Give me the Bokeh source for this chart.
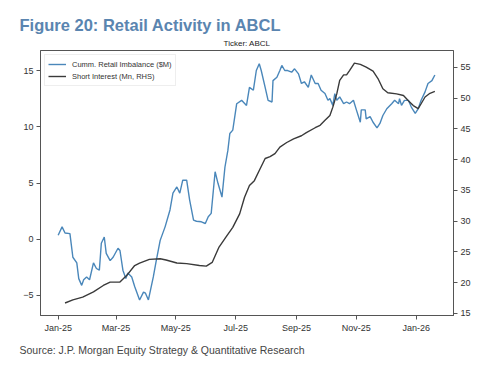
import pandas as pd
from bokeh.plotting import figure
from bokeh.models import (ColumnDataSource, Range1d, LinearAxis, FixedTicker,
                          DatetimeTickFormatter, Title)
from bokeh.embed import file_html
from bokeh.resources import INLINE

# ---------------- data ----------------
title_text = "Figure 20: Retail Activity in ABCL"
subtitle_text = "Ticker: ABCL"
source_text = "Source: J.P. Morgan Equity Strategy & Quantitative Research"
series_names = ["Cumm. Retail Imbalance ($M)", "Short Interest (Mn, RHS)"]

x_ticks = ["2025-01-01", "2025-03-01", "2025-05-01", "2025-07-01",
           "2025-09-01", "2025-11-01", "2026-01-01"]
left_ticks = [-5, 0, 5, 10, 15]
right_ticks = [15, 20, 25, 30, 35, 40, 45, 50, 55]

retail_dates = [
    "2025-01-01", "2025-01-05", "2025-01-08", "2025-01-13", "2025-01-16", "2025-01-20", "2025-01-22",
    "2025-01-25", "2025-01-27", "2025-01-30",
    "2025-02-02", "2025-02-06", "2025-02-09", "2025-02-12", "2025-02-14", "2025-02-17", "2025-02-19",
    "2025-02-23", "2025-02-26",
    "2025-03-03", "2025-03-05", "2025-03-08", "2025-03-11", "2025-03-13", "2025-03-17", "2025-03-20",
    "2025-03-25", "2025-03-29", "2025-03-31",
    "2025-04-03", "2025-04-08", "2025-04-11", "2025-04-15", "2025-04-20", "2025-04-25", "2025-04-28",
    "2025-05-02", "2025-05-05", "2025-05-08", "2025-05-12", "2025-05-15", "2025-05-19", "2025-05-22",
    "2025-05-27", "2025-05-31",
    "2025-06-03", "2025-06-06", "2025-06-10", "2025-06-13", "2025-06-17", "2025-06-20", "2025-06-23",
    "2025-06-25", "2025-06-28",
    "2025-07-02", "2025-07-07", "2025-07-12", "2025-07-15", "2025-07-19", "2025-07-22", "2025-07-25",
    "2025-07-27", "2025-07-31",
    "2025-08-03", "2025-08-07", "2025-08-08", "2025-08-12", "2025-08-15", "2025-08-17", "2025-08-20",
    "2025-08-23", "2025-08-27", "2025-08-30",
    "2025-09-03", "2025-09-06", "2025-09-09", "2025-09-13", "2025-09-16", "2025-09-20", "2025-09-23",
    "2025-09-26", "2025-09-30",
    "2025-10-03", "2025-10-05", "2025-10-08", "2025-10-10", "2025-10-12", "2025-10-15", "2025-10-19",
    "2025-10-22", "2025-10-25", "2025-10-29",
    "2025-11-01", "2025-11-05", "2025-11-06", "2025-11-10", "2025-11-11", "2025-11-15", "2025-11-18",
    "2025-11-22", "2025-11-25", "2025-11-28",
    "2025-12-02", "2025-12-07", "2025-12-10", "2025-12-14", "2025-12-15", "2025-12-17", "2025-12-20",
    "2025-12-24", "2025-12-27", "2025-12-31",
    "2026-01-03", "2026-01-06", "2026-01-10", "2026-01-13", "2026-01-17", "2026-01-20",
]
retail_vals = [
    0.36, 1.1, 0.56, 0.5, -1.6, -2.1, -3.5, -4.1, -3.6, -3.35,
    -3.6, -2.1, -2.6, -2.75, -0.36, 0.2, -1.25, -1.9, -1.6,
    -0.8, -1.0, -2.75, -3.5, -3.0, -3.35, -4.2, -5.4, -4.7, -4.8,
    -5.4, -3.35, -1.9, -0.1, 1.1, 2.6, 4.1,
    4.65, 4.1, 5.25, 5.25, 3.5, 1.7, 1.6, 1.55, 1.4,
    2.0, 2.3, 6.0, 4.95, 3.75, 6.4, 7.9, 9.4, 9.7,
    12.05, 12.35, 11.9, 13.5, 13.25, 15.0, 15.6, 15.0, 13.5,
    12.35, 12.2, 14.1, 14.4, 15.0, 15.45, 15.0, 15.0, 14.85, 15.15,
    14.7, 13.85, 14.0, 13.5, 14.6, 13.85, 13.85, 13.25, 12.95,
    12.35, 12.5, 11.9, 12.95, 12.35, 12.65, 12.05, 12.2, 12.05, 12.35,
    11.5, 10.4, 11.5, 11.5, 10.7, 10.9, 10.4, 9.9, 10.3, 11.0,
    11.6, 12.05, 12.35, 12.05, 12.5, 11.9, 12.35, 12.35, 11.75, 11.2,
    11.6, 12.35, 13.1, 13.85, 14.1, 14.6,
]

short_dates = [
    "2025-01-08", "2025-01-16", "2025-01-26",
    "2025-02-06", "2025-02-16", "2025-02-23",
    "2025-03-05", "2025-03-12", "2025-03-20", "2025-03-25",
    "2025-04-04", "2025-04-15", "2025-04-21",
    "2025-05-02", "2025-05-12", "2025-05-25",
    "2025-06-01", "2025-06-07", "2025-06-14", "2025-06-21", "2025-06-28",
    "2025-07-05", "2025-07-10", "2025-07-15", "2025-07-20", "2025-07-25", "2025-07-31",
    "2025-08-05", "2025-08-10", "2025-08-15", "2025-08-22", "2025-08-29",
    "2025-09-06", "2025-09-11", "2025-09-20", "2025-09-25", "2025-09-30",
    "2025-10-05", "2025-10-08", "2025-10-12", "2025-10-15", "2025-10-19", "2025-10-22", "2025-10-25",
    "2025-10-30",
    "2025-11-05", "2025-11-11", "2025-11-18", "2025-11-23", "2025-11-28",
    "2025-12-03", "2025-12-12", "2025-12-19", "2025-12-24", "2025-12-29",
    "2026-01-03", "2026-01-06", "2026-01-10", "2026-01-15", "2026-01-20",
]
short_vals = [
    16.7, 17.2, 17.65,
    18.5, 19.55, 20.1,
    20.1, 21.2, 22.8, 23.2,
    23.8, 23.9, 23.7,
    23.2, 23.1, 22.8,
    22.7, 23.3, 25.8, 27.4, 29.0,
    31.2, 33.9, 35.8, 36.6, 38.25, 40.2,
    40.5, 41.0, 42.05, 42.8, 43.4,
    43.9, 44.4, 45.2, 45.6, 46.4,
    47.2, 48.55, 50.7, 52.9, 53.8, 53.8, 54.5, 55.7,
    55.5, 55.05, 54.4, 53.2, 51.55,
    50.9, 50.7, 50.45, 49.6, 48.8,
    48.3, 49.1, 50.2, 50.8, 51.1,
]

# ---------------- styling ----------------
FONT = "Liberation Sans"
BLUE = "#4a87ba"
DARK = "#3a3a3a"
TXT = "#333333"

retail_src = ColumnDataSource(dict(x=pd.to_datetime(retail_dates), y=retail_vals))
short_src = ColumnDataSource(dict(x=pd.to_datetime(short_dates), y=short_vals))

W, H = 492, 367
p = figure(width=W, height=H, output_backend="svg", toolbar_location=None,
           x_axis_type="datetime",
           x_range=Range1d(pd.Timestamp("2024-12-14"), pd.Timestamp("2026-02-08")),
           y_range=Range1d(-6.78, 16.78),
           min_border_left=40, min_border_right=39, min_border_top=50, min_border_bottom=52)
p.extra_y_ranges = {"right": Range1d(14.67, 57.76)}

p.background_fill_color = "white"
p.border_fill_color = "white"
p.outline_line_color = "#555555"
p.outline_line_width = 1
p.xgrid.visible = False
p.ygrid.visible = False

p.line("x", "y", source=retail_src, color=BLUE, line_width=1.4, legend_label=series_names[0])
p.line("x", "y", source=short_src, color=DARK, line_width=1.4, legend_label=series_names[1],
       y_range_name="right")

raxis = LinearAxis(y_range_name="right")
p.add_layout(raxis, "right")

p.xaxis.ticker = FixedTicker(ticks=[pd.Timestamp(t).value / 1e6 for t in x_ticks])
p.xaxis.formatter = DatetimeTickFormatter(days="%b-%y", months="%b-%y", years="%b-%y")
p.yaxis[0].ticker = FixedTicker(ticks=left_ticks)
raxis.ticker = FixedTicker(ticks=right_ticks)

for ax in [p.xaxis[0], p.yaxis[0], raxis]:
    ax.axis_line_color = "#555555"
    ax.major_tick_line_color = "#555555"
    ax.major_tick_out = 4
    ax.major_tick_in = 0
    ax.minor_tick_line_color = None
    ax.major_label_text_font = FONT
    ax.major_label_text_font_size = "9px"
    ax.major_label_text_color = TXT
    ax.major_label_standoff = 3

leg = p.legend[0]
leg.location = "top_left"
leg.margin = 4
leg.padding = 3
leg.spacing = 0
leg.glyph_width = 18
leg.glyph_height = 12
leg.label_height = 12
leg.label_standoff = 6
leg.label_text_font = FONT
leg.label_text_font_size = "7.5px"
leg.label_text_color = TXT
leg.border_line_color = "#dddddd"
leg.background_fill_alpha = 0.9

# titles
sub = Title(text=subtitle_text, align="center", text_font=FONT, text_font_size="8px",
            text_font_style="normal", text_color="#222222", standoff=5)
p.add_layout(sub, "above")
big = Title(text=title_text, align="left", offset=-21, text_font=FONT, text_font_size="16.5px",
            text_font_style="bold", text_color="#5a85b0", standoff=2)
p.add_layout(big, "above")
src = Title(text=source_text, align="left", offset=-21, text_font=FONT, text_font_size="10.5px",
            text_font_style="normal", text_color="#444444", standoff=12)
p.add_layout(src, "below")

open("out.html", "w").write(file_html(p, INLINE))
